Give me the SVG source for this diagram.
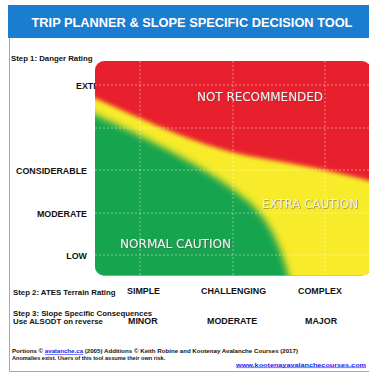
<svg xmlns="http://www.w3.org/2000/svg" width="369" height="373" viewBox="0 0 369 373">
<defs>
<style>
.lbl{font-family:"Liberation Sans",Arial,sans-serif;font-weight:bold;fill:#111}
.s{font-size:7.8px}
.d{font-size:8.9px}
.f{font-family:"Liberation Sans",Arial,sans-serif;font-weight:bold;font-size:5.6px;fill:#111}
.zone{font-family:"DejaVu Sans Condensed","DejaVu Sans",sans-serif;font-stretch:condensed;font-size:13px;fill:#f2f2f2;filter:url(#sh)}
.grid{stroke:#ffffff;stroke-opacity:0.55;stroke-width:0.8;stroke-dasharray:2 2;fill:none}
</style>
<clipPath id="chartClip"><rect x="95" y="61" width="276" height="214.5" rx="9" ry="9"/></clipPath>
<filter id="b1" x="-20%" y="-20%" width="140%" height="140%"><feGaussianBlur stdDeviation="2"/></filter>
<filter id="b2" x="-20%" y="-20%" width="140%" height="140%"><feGaussianBlur stdDeviation="3.5"/></filter>
<filter id="sh" x="-10%" y="-30%" width="120%" height="160%"><feDropShadow dx="0.6" dy="0.6" stdDeviation="0.3" flood-color="#444" flood-opacity="0.7"/></filter>
</defs>
<rect width="369" height="373" fill="#ffffff"/>
<g id="frame">
<line x1="9.5" y1="38" x2="9.5" y2="371.5" stroke="#a8a8a8" stroke-width="1"/>
<line x1="9.5" y1="371.5" x2="369" y2="371.5" stroke="#a8a8a8" stroke-width="1"/>
</g>
<g id="title">
<rect x="8" y="5" width="361" height="33" fill="#1b7dd0"/>
<text x="192" y="27" text-anchor="middle" style="font-family:'Liberation Sans',Arial,sans-serif;font-weight:bold;font-size:12.8px;fill:#ffffff">TRIP PLANNER &amp; SLOPE SPECIFIC DECISION TOOL</text>
</g>
<g id="danger-axis">
<text class="lbl s" x="11" y="61">Step 1: Danger Rating</text>
<text class="lbl d" x="76" y="89">EXTREME</text>
<text class="lbl d" x="87" y="174" text-anchor="end">CONSIDERABLE</text>
<text class="lbl d" x="87" y="216.5" text-anchor="end">MODERATE</text>
<text class="lbl d" x="87" y="259" text-anchor="end">LOW</text>
</g>
<g id="chart" clip-path="url(#chartClip)">
<rect x="90" y="55" width="285" height="225" fill="#e8202e"/>
<path d="M85,94 C150,122 200,148 260,158 C300,165 340,172 380,184 L380,290 L85,290 Z" fill="#f8eb2a" filter="url(#b1)"/>
<path d="M85,110 C150,139 210,170 240,195 C268,215 282,245 292,290 L85,290 Z" fill="#19a44f" filter="url(#b2)"/>
<g id="grid">
<line class="grid" x1="140" y1="61" x2="140" y2="276"/>
<line class="grid" x1="233" y1="61" x2="233" y2="276"/>
<line class="grid" x1="325" y1="61" x2="325" y2="276"/>
<line class="grid" x1="95" y1="85" x2="369" y2="85"/>
<line class="grid" x1="95" y1="128" x2="369" y2="128"/>
<line class="grid" x1="95" y1="170" x2="369" y2="170"/>
<line class="grid" x1="95" y1="213" x2="369" y2="213"/>
<line class="grid" x1="95" y1="255" x2="369" y2="255"/>
</g>
</g>
<g id="zone-labels">
<text class="zone" x="197" y="100.5" textLength="126" lengthAdjust="spacingAndGlyphs">NOT RECOMMENDED</text>
<text class="zone" x="262" y="207.5" textLength="96" lengthAdjust="spacingAndGlyphs">EXTRA CAUTION</text>
<text class="zone" x="120" y="248" textLength="111" lengthAdjust="spacingAndGlyphs">NORMAL CAUTION</text>
</g>
<g id="terrain-axis">
<text class="lbl s" x="13" y="295">Step 2: ATES Terrain Rating</text>
<text class="lbl d" x="127" y="294">SIMPLE</text>
<text class="lbl d" x="201" y="294">CHALLENGING</text>
<text class="lbl d" x="298" y="294">COMPLEX</text>
</g>
<g id="consequence-axis">
<text class="lbl s" x="13" y="315.5">Step 3: Slope Specific Consequences</text>
<text class="lbl s" x="13" y="324">Use ALSODT on reverse</text>
<text class="lbl d" x="128" y="324">MINOR</text>
<text class="lbl d" x="207" y="324">MODERATE</text>
<text class="lbl d" x="305" y="324">MAJOR</text>
</g>
<g id="footer">
<text class="f" x="12" y="353" textLength="286" lengthAdjust="spacingAndGlyphs">Portions © <tspan fill="#1a1aee" text-decoration="underline">avalanche.ca</tspan> (2005) Additions ©  Keith Robine and Kootenay Avalanche Courses (2017)</text>
<text class="f" x="12" y="360">Anomalies exist. Users of this tool assume their own risk.</text>
<text class="f" x="236" y="366.5" textLength="130" lengthAdjust="spacingAndGlyphs" style="fill:#1a1aee" text-decoration="underline">www.kootenayavalanchecourses.com</text>
</g>
</svg>
